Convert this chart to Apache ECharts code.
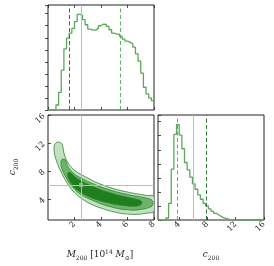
<!DOCTYPE html>
<html><head><meta charset="utf-8">
<script src="https://cdn.jsdelivr.net/npm/echarts@6/dist/echarts.min.js"></script>
<style>html,body{margin:0;padding:0;background:#fff}#c{width:274px;height:266px}</style>
</head><body><div id="c"></div>
<script>
// ---- data ----
const massRange = [0, 8];
const concRange = [1, 16];
const massHist = [0,0,2,15,53,119,183,215,230,244,264,286,284,270,255,242,239,239,244,252,257,256,250,240,230,227,227,220,212,206,203,198,188,168,146,110,68,48,36,28];
const concHist = [0,0,0,6,50,152,256,285,254,213,172,150,128,108,92,75,62,50,42,33,26,20,15,10,6,4,2,1,0,0,0,0,0,0,0,0,0,0,0,0];
const massQuantiles = [1.58, 5.48];
const concQuantiles = [3.75, 7.82];
const truthMass = 2.5;
const truthConc = 6.0;
const massTicks = [2, 4, 6, 8];
const concTicks = [4, 8, 12, 16];
const contourOuter = [[0.75,12.15],[1.0,12.0],[1.12,11.5],[1.2,10.6],[1.35,9.7],[1.6,8.9],[2.0,8.1],[2.5,7.5],[3.0,7.0],[3.5,6.5],[4.0,6.1],[4.5,5.75],[5.0,5.45],[5.5,5.2],[6.0,5.0],[6.5,4.8],[7.0,4.65],[7.5,4.5],[8.0,4.4],[8.0,2.2],[7.5,2.0],[7.0,1.85],[6.5,1.8],[6.0,1.85],[5.5,1.95],[5.0,2.15],[4.5,2.4],[4.0,2.7],[3.5,3.05],[3.0,3.5],[2.5,4.1],[2.0,4.9],[1.6,5.8],[1.25,6.9],[0.95,8.0],[0.7,9.1],[0.52,10.2],[0.45,11.1],[0.5,11.8]];
const contourMid = [[1.1,9.7],[1.3,9.6],[1.45,8.8],[1.7,8.1],[2.1,7.4],[2.5,7.0],[3.0,6.5],[3.5,6.1],[4.0,5.7],[4.5,5.4],[5.0,5.1],[5.5,4.85],[6.0,4.65],[6.5,4.45],[7.0,4.3],[7.5,4.1],[7.8,3.9],[7.95,3.5],[7.85,3.0],[7.5,2.7],[7.0,2.5],[6.5,2.4],[6.0,2.45],[5.5,2.55],[5.0,2.75],[4.5,3.0],[4.0,3.3],[3.5,3.7],[3.0,4.1],[2.5,4.6],[2.0,5.4],[1.6,6.3],[1.3,7.3],[1.05,8.3],[0.98,9.0],[1.0,9.5]];
const contourInner = [[1.55,7.8],[1.75,7.7],[2.0,7.2],[2.5,6.6],[3.0,6.1],[3.5,5.7],[4.0,5.3],[4.5,5.0],[5.0,4.7],[5.5,4.45],[6.0,4.25],[6.5,4.05],[6.9,3.85],[7.1,3.5],[6.95,3.1],[6.5,2.95],[6.0,3.0],[5.5,3.1],[5.0,3.25],[4.5,3.45],[4.0,3.7],[3.5,4.0],[3.0,4.4],[2.5,4.9],[2.0,5.6],[1.7,6.4],[1.5,7.1],[1.48,7.5]];

// ---- build ----
function histPoints(vals, range) {
  const w = (range[1] - range[0]) / vals.length;
  const pts = vals.map((v, i) => [range[0] + i * w, v]);
  pts.push([range[1], vals[vals.length - 1]]);
  return pts;
}
const contours = [contourOuter, contourMid, contourInner];
const fills = ['#c4e0c2', '#6db36b', '#1f7f1f'];
const edge = '#2f862f';
const gray = '#bdbdbd';
const dk = '#2a7a2a', lt = '#62b062';
const histColor = '#5aa95a';
const axisCol = '#222';
const font = 'DejaVu Serif';
const tickStyle = {inside: true, length: 3, lineStyle: {color: axisCol, width: 0.8}};
const lblStyle = {rotate: 45, fontSize: 8, fontFamily: font, color: axisCol, margin: 3};
const gridBase = {show: true, borderColor: axisCol, borderWidth: 1, backgroundColor: 'transparent'};
const noSplit = {show: false};
function ml(items) {
  return {silent: true, symbol: ['none','none'], label: {show: false}, animation: false, data: items};
}
const option = {
  animation: false,
  grid: [
    Object.assign({left: 48, top: 5, width: 106, height: 105}, gridBase),
    Object.assign({left: 48, top: 115, width: 106, height: 105}, gridBase),
    Object.assign({left: 158, top: 115, width: 106, height: 105}, gridBase)
  ],
  xAxis: [
    {gridIndex: 0, type: 'value', min: massRange[0], max: massRange[1], interval: 2, axisLine: {show: false}, axisLabel: {show: false}, axisTick: tickStyle, splitLine: noSplit},
    {gridIndex: 0, type: 'value', position: 'top', min: massRange[0], max: massRange[1], interval: 2, axisLine: {show: false}, axisLabel: {show: false}, axisTick: tickStyle, splitLine: noSplit},
    {gridIndex: 1, type: 'value', min: massRange[0], max: massRange[1], axisLine: {show: false},
      axisLabel: Object.assign({customValues: massTicks}, lblStyle), axisTick: Object.assign({customValues: massTicks}, tickStyle), splitLine: noSplit},
    {gridIndex: 2, type: 'value', min: concRange[0], max: concRange[1], axisLine: {show: false},
      axisLabel: Object.assign({customValues: concTicks}, lblStyle), axisTick: Object.assign({customValues: concTicks}, tickStyle), splitLine: noSplit}
  ],
  yAxis: [
    {gridIndex: 0, type: 'value', position: 'right', min: 0, max: 314, interval: 36, axisLine: {show: false}, axisLabel: {show: false}, axisTick: tickStyle, splitLine: noSplit},
    {gridIndex: 1, type: 'value', min: concRange[0], max: concRange[1], axisLine: {show: false},
      axisLabel: Object.assign({customValues: concTicks}, lblStyle, {margin: 4}), axisTick: Object.assign({customValues: concTicks}, tickStyle), splitLine: noSplit},
    {gridIndex: 2, type: 'value', min: 0, max: 314, interval: 42, axisLine: {show: false}, axisLabel: {show: false}, axisTick: tickStyle, splitLine: noSplit}
  ],
  series: [
    {type: 'line', xAxisIndex: 0, yAxisIndex: 0, step: 'end', symbol: 'none', data: histPoints(massHist, massRange),
      lineStyle: {color: histColor, width: 1.3}, z: 3,
      markLine: ml([
        {xAxis: truthMass, lineStyle: {color: gray, width: 1, type: 'solid'}},
        {xAxis: massQuantiles[0], lineStyle: {color: dk, width: 1, type: [4, 2.5]}},
        {xAxis: massQuantiles[1], lineStyle: {color: lt, width: 1, type: [4, 2.5]}}
      ])},
    {type: 'custom', xAxisIndex: 2, yAxisIndex: 1, clip: true, data: [0, 1, 2], z: 2,
      renderItem: function (params, api) {
        const k = api.value(0);
        const pts = contours[k].map(p => api.coord(p));
        return {type: 'polygon', shape: {points: pts, smooth: 0.3},
          style: {fill: fills[k], stroke: edge, lineWidth: 0.8}};
      }},
    {type: 'scatter', xAxisIndex: 2, yAxisIndex: 1, data: [[truthMass, truthConc]], symbol: 'rect', symbolSize: 4,
      itemStyle: {color: '#b0b0b0'}, z: 5,
      markLine: ml([
        {xAxis: truthMass, lineStyle: {color: gray, width: 1, type: 'solid'}},
        {yAxis: truthConc, lineStyle: {color: gray, width: 1, type: 'solid'}}
      ])},
    {type: 'line', xAxisIndex: 3, yAxisIndex: 2, step: 'end', symbol: 'none', data: histPoints(concHist, concRange),
      lineStyle: {color: histColor, width: 1.3}, z: 3,
      markLine: ml([
        {xAxis: truthConc, lineStyle: {color: gray, width: 1, type: 'solid'}},
        {xAxis: concQuantiles[0], lineStyle: {color: lt, width: 1, type: [4, 2.5]}},
        {xAxis: concQuantiles[1], lineStyle: {color: dk, width: 1, type: [4, 2.5]}}
      ])}
  ],
  graphic: [
    {type: 'text', x: 100, y: 255, style: {text: '{i|M}{s|200} [10{p|14} {i|M}{s|⊙}]', textAlign: 'center', textVerticalAlign: 'middle', fill: axisCol, font: '9px ' + font,
      rich: {i: {fontStyle: 'italic', fontSize: 9, fontFamily: font, lineHeight: 12, verticalAlign: 'middle'},
             s: {fontSize: 6, fontFamily: font, lineHeight: 12, verticalAlign: 'bottom'},
             p: {fontSize: 6, fontFamily: font, lineHeight: 12, verticalAlign: 'top'}}}},
    {type: 'text', x: 211, y: 255, style: {text: '{i|c}{s|200}', textAlign: 'center', textVerticalAlign: 'middle', fill: axisCol,
      rich: {i: {fontStyle: 'italic', fontSize: 9, fontFamily: font, lineHeight: 12, verticalAlign: 'middle'},
             s: {fontSize: 6, fontFamily: font, lineHeight: 12, verticalAlign: 'bottom'}}}},
    {type: 'text', x: 13, y: 167, rotation: Math.PI / 2, style: {text: '{i|c}{s|200}', textAlign: 'center', textVerticalAlign: 'middle', fill: axisCol,
      rich: {i: {fontStyle: 'italic', fontSize: 9, fontFamily: font, lineHeight: 12, verticalAlign: 'middle'},
             s: {fontSize: 6, fontFamily: font, lineHeight: 12, verticalAlign: 'bottom'}}}}
  ]
};
const chart = echarts.init(document.getElementById('c'), null, {renderer: 'canvas'});
chart.setOption(option);
</script></body></html>
